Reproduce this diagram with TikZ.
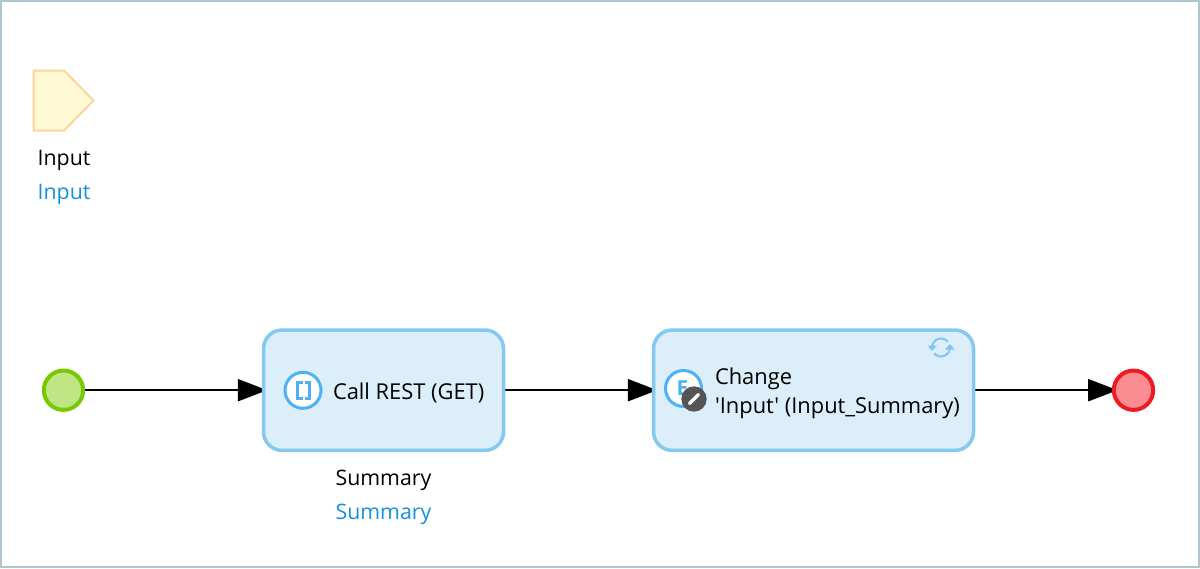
\documentclass[tikz,border=0pt]{standalone}
\usepackage{fontspec}
\setmainfont{Open Sans}[Ligatures=TeXOff]
\usetikzlibrary{arrows.meta,backgrounds,positioning}
\definecolor{framecol}{HTML}{AEC4CE}
\definecolor{actfill}{HTML}{DBEEFA}
\definecolor{actline}{HTML}{83C9F0}
\definecolor{iconblue}{HTML}{4DB1F5}
\definecolor{syncblue}{HTML}{7CC5F7}
\definecolor{typeblue}{HTML}{1492DC}
\definecolor{paramfill}{HTML}{FFF9D6}
\definecolor{paramline}{HTML}{FFD49B}
\definecolor{startfill}{HTML}{BFE585}
\definecolor{startline}{HTML}{76CA02}
\definecolor{endfill}{HTML}{FA8C92}
\definecolor{endline}{HTML}{ED1C24}
\definecolor{badge}{HTML}{555555}
\tikzset{
  x=0.75pt,y=-0.75pt,
  px/.style={line width=#1*0.75pt},
  lbl/.style={font=\fontsize{16}{18}\selectfont,inner sep=0pt,outer sep=0pt,text=black},
  boxlbl/.style={lbl,font=\fontsize{16.4}{18}\selectfont},
  typelbl/.style={lbl,text=typeblue},
  activity/.style={draw=actline,fill=actfill,px=3.5,rounded corners=14pt,outer sep=0pt,inner sep=0pt,minimum height=90.3pt},
  event/.style={circle,px=4,minimum size=29.5pt,inner sep=0pt,outer sep=0pt},
  icon/.style={circle,draw=iconblue,fill=white,px=3,minimum size=27pt,inner sep=0pt,outer sep=0pt},
  flow/.style={draw=black,px=2,shorten >=-2.8pt,-{Triangle[length=22pt,width=16.5pt]}},
}
\begin{document}
\begin{tikzpicture}
\useasboundingbox (0,0) rectangle (1200,568);
% parameter
\draw[draw=paramline,fill=paramfill,px=2,line join=miter] (33.5,70.5) -- (64,70.5) -- (93.5,100.5) -- (64,130.5) -- (33.5,130.5) -- cycle;
\node[lbl] (inName) at (64,160.5) {Input};
\node[typelbl] (inType) at (64,194.5) {Input};
% events
\node[event,draw=startline,fill=startfill] (start) at (63.5,390.2) {};
\node[event,draw=endline,fill=endfill] (end) at (1133.5,390.2) {};
% activities
\node[activity,minimum width=180pt] (rest) at (383.5,390.2) {};
\node[activity,minimum width=240pt] (change) at (813.5,390.2) {};
% first activity content
\node[icon] (restIcon) at (303,390.3) {};
\draw[iconblue,px=3,line join=miter] (302.5,382.5) -- (297.5,382.5) -- (297.5,398.5) -- (302.5,398.5);
\draw[iconblue,px=3,line join=miter] (304.5,382.5) -- (309.5,382.5) -- (309.5,398.5) -- (304.5,398.5);
\node[boxlbl,anchor=west] (restText) at (333,393) {Call REST (GET)};
\node[lbl] (sumName) at (383.5,480.5) {Summary};
\node[typelbl] (sumType) at (383.5,514.5) {Summary};
% second activity content
\node[icon] (chIcon) at (683.5,388.5) {};
\node[font=\fontsize{15.5}{16}\selectfont\bfseries,text=iconblue,inner sep=0pt] (chE) at (682.5,388) {E};
\node[circle,fill=badge,minimum size=19pt,inner sep=0pt,outer sep=0pt] (chBadge) at (694,399) {};
\draw[white,px=3.5,line cap=round] (689.5,403.5) -- (698.5,394.5);
\node[boxlbl,anchor=west] (chText1) at (715,378.5) {Change};
\node[boxlbl,anchor=west] (chText2) at (715,408.5) {'Input' (Input\_Summary)};
% refresh icon
\draw[syncblue,px=2] (932.1,345.9) arc[start angle=-170,end angle=-40,radius=9];
\draw[syncblue,px=2] (949.9,349.1) arc[start angle=10,end angle=140,radius=9];
\fill[syncblue] (927.5,345.5) -- (937,345.5) -- (932,351) -- cycle;
\fill[syncblue] (945,349.5) -- (954.5,349.5) -- (950,344) -- cycle;
% background: frame and connectors
\begin{scope}[on background layer]
\draw[draw=framecol,fill=white,px=2] (1,1) rectangle (1199,567);
\draw[flow] (start) -- (rest);
\draw[flow] (rest) -- (change);
\draw[flow] (change) -- (end);
\end{scope}
\end{tikzpicture}
\end{document}
